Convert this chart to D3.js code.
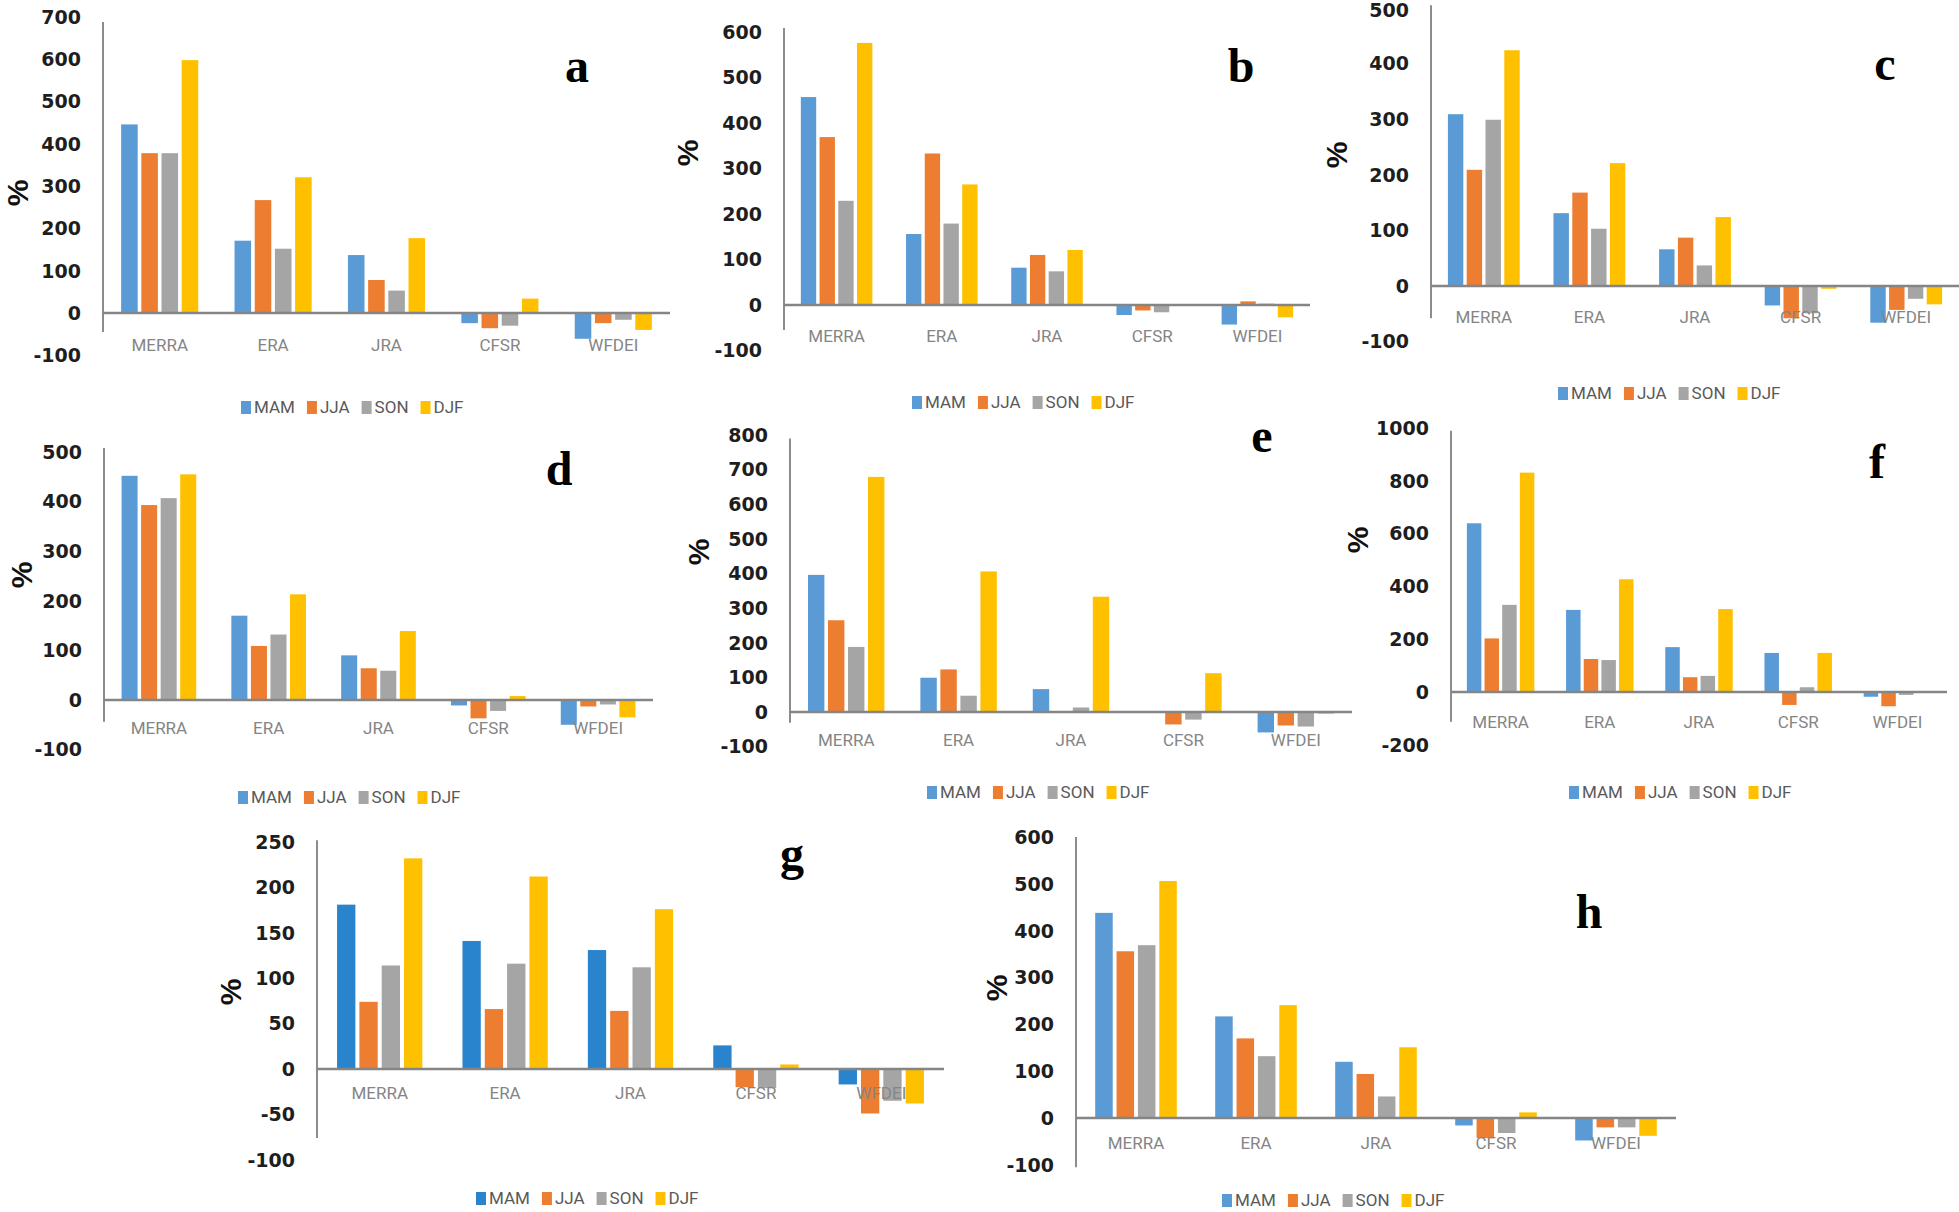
<!DOCTYPE html>
<html>
<head>
<meta charset="utf-8">
<script src="https://cdn.jsdelivr.net/npm/d3@7/dist/d3.min.js"></script>
<style>
  html, body { margin: 0; padding: 0; background: #ffffff; }
  svg { display: block; }
</style>
</head>
<body>
<svg id="chart" width="1959" height="1212"></svg>
<script>
// ---------------- DATA ----------------
const categories = ["MERRA", "ERA", "JRA", "CFSR", "WFDEI"];
const seasons = ["MAM", "JJA", "SON", "DJF"];

// each array: [MAM, JJA, SON, DJF], each row by category order
const valuesA = [[446, 171, 137, -24, -61], [378, 267, 78, -36, -24], [378, 152, 53, -30, -16], [598, 321, 177, 34, -40]];
const valuesB = [[457, 156, 82, -22, -43], [369, 333, 110, -12, 8], [229, 179, 74, -16, 3], [576, 265, 121, 0, -27]];
const valuesC = [[309, 131, 66, -35, -66], [209, 168, 87, -58, -43], [299, 103, 37, -49, -23], [424, 221, 124, -5, -33]];
const valuesD = [[452, 170, 90, -11, -50], [393, 109, 64, -37, -13], [407, 132, 59, -22, -9], [455, 213, 139, 8, -35]];
const valuesE = [[396, 99, 66, 0, -59], [265, 123, 0, -36, -39], [188, 47, 13, -22, -42], [679, 406, 333, 112, -5]];
const valuesF = [[639, 311, 170, 148, -18], [203, 125, 56, -49, -54], [330, 121, 61, 18, -11], [831, 427, 314, 148, 0]];
const valuesG = [[181, 141, 131, 26, -17], [74, 66, 64, -20, -49], [114, 116, 112, -21, -35], [232, 212, 176, 5, -38]];
const valuesH = [[438, 217, 120, -16, -48], [356, 170, 94, -43, -20], [369, 132, 46, -32, -20], [506, 241, 151, 12, -38]];

const ticksA = [-100, 0, 100, 200, 300, 400, 500, 600, 700];
const ticksB = [-100, 0, 100, 200, 300, 400, 500, 600];
const ticksC = [-100, 0, 100, 200, 300, 400, 500];
const ticksD = [-100, 0, 100, 200, 300, 400, 500];
const ticksE = [-100, 0, 100, 200, 300, 400, 500, 600, 700, 800];
const ticksF = [-200, 0, 200, 400, 600, 800, 1000];
const ticksG = [-100, -50, 0, 50, 100, 150, 200, 250];
const ticksH = [-100, 0, 100, 200, 300, 400, 500, 600];

const panelLetters = ["a", "b", "c", "d", "e", "f", "g", "h"];

// ---------------- STYLE / LAYOUT ----------------
const seasonColors = ["#5b9bd5", "#ed7d31", "#a5a5a5", "#ffc000"];
const seasonColorsG = ["#2a84cd", "#ed7d31", "#a5a5a5", "#ffc000"];

const layouts = [
  {values: valuesA, ticks: ticksA, x0: 103, x1: 670, zeroY: 313, topVal: 700, topY: 17, axisTop: 688, axisBot: -45, catY: 345, legX: 241, legY: 407, pctX: 17, pctY: 193, lx: 577, ly: 82},
  {values: valuesB, ticks: ticksB, x0: 784, x1: 1310, zeroY: 305, topVal: 600, topY: 32, axisTop: 609, axisBot: -55, catY: 336, legX: 912, legY: 402, pctX: 687, pctY: 153, lx: 1241, ly: 82},
  {values: valuesC, ticks: ticksC, x0: 1431, x1: 1959, zeroY: 286, topVal: 500, topY: 8, axisTop: 505, axisBot: -58, catY: 317, legX: 1558, legY: 393, pctX: 1336, pctY: 155, lx: 1885, ly: 80},
  {values: valuesD, ticks: ticksD, x0: 104, x1: 653, zeroY: 700, topVal: 500, topY: 452, axisTop: 508, axisBot: -44, catY: 728, legX: 238, legY: 797, pctX: 21, pctY: 575, lx: 559, ly: 485},
  {values: valuesE, ticks: ticksE, x0: 790, x1: 1352, zeroY: 712, topVal: 800, topY: 435, axisTop: 790, axisBot: -31, catY: 740, legX: 927, legY: 792, pctX: 698, pctY: 552, lx: 1262, ly: 452},
  {values: valuesF, ticks: ticksF, x0: 1451, x1: 1947, zeroY: 692, topVal: 1000, topY: 428, axisTop: 990, axisBot: -113, catY: 722, legX: 1569, legY: 792, pctX: 1357, pctY: 540, lx: 1877, ly: 478},
  {values: valuesG, ticks: ticksG, x0: 317, x1: 944, zeroY: 1069, topVal: 250, topY: 842, axisTop: 252, axisBot: -76, catY: 1093, legX: 476, legY: 1198, pctX: 230, pctY: 992, lx: 792, ly: 870, colors: seasonColorsG},
  {values: valuesH, ticks: ticksH, x0: 1076, x1: 1676, zeroY: 1118, topVal: 600, topY: 837, axisTop: 600, axisBot: -105, catY: 1143, legX: 1222, legY: 1200, pctX: 996, pctY: 988, lx: 1589, ly: 928}
];

const svg = d3.select("#chart");

layouts.forEach((L, i) => {
  const colors = L.colors || seasonColors;
  const g = svg.append("g");

  const y = d3.scaleLinear().domain([0, L.topVal]).range([L.zeroY, L.topY]);
  const x = d3.scaleBand().domain(categories).range([L.x0, L.x1]);
  const bw = x.bandwidth();
  const xs = d3.scaleBand().domain(seasons).range([-0.34 * bw, 0.34 * bw]).paddingInner(0.18);

  // bars
  seasons.forEach((s, si) => {
    g.append("g").selectAll("rect")
      .data(L.values[si].map((v, ci) => ({cat: categories[ci], v})))
      .join("rect")
      .attr("x", d => x(d.cat) + bw / 2 + xs(s))
      .attr("width", xs.bandwidth())
      .attr("y", d => Math.min(y(d.v), y(0)))
      .attr("height", d => Math.abs(y(d.v) - y(0)))
      .attr("fill", colors[si]);
  });

  // vertical axis line
  g.append("line")
    .attr("x1", L.x0).attr("x2", L.x0)
    .attr("y1", y(L.axisTop)).attr("y2", y(L.axisBot))
    .attr("stroke", "#8c8c8c").attr("stroke-width", 2);

  // zero line
  g.append("line")
    .attr("x1", L.x0).attr("x2", L.x1)
    .attr("y1", y(0)).attr("y2", y(0))
    .attr("stroke", "#858585").attr("stroke-width", 2.5);

  // tick labels
  g.append("g").selectAll("text")
    .data(L.ticks)
    .join("text")
    .attr("x", L.x0 - 22)
    .attr("y", d => Math.max(y(d), 10))
    .attr("dy", "0.36em")
    .attr("text-anchor", "end")
    .attr("font-family", "'DejaVu Sans', sans-serif")
    .attr("font-weight", "bold")
    .attr("font-size", 19)
    .attr("fill", "#1e1e1e")
    .text(d => d);

  // category labels
  g.append("g").selectAll("text")
    .data(categories)
    .join("text")
    .attr("x", d => x(d) + bw / 2)
    .attr("y", L.catY)
    .attr("dy", "0.36em")
    .attr("text-anchor", "middle")
    .attr("font-family", "Roboto, sans-serif")
    .attr("font-size", 17)
    .attr("fill", "#858585")
    .text(d => d);

  // % label
  g.append("text")
    .attr("transform", `translate(${L.pctX},${L.pctY}) rotate(-90)`)
    .attr("text-anchor", "middle")
    .attr("dy", "0.36em")
    .attr("font-family", "'Liberation Sans', Arial, sans-serif")
    .attr("font-weight", "bold")
    .attr("font-size", 30)
    .attr("fill", "#111")
    .text("%");

  // panel letter
  g.append("text")
    .attr("x", L.lx).attr("y", L.ly)
    .attr("text-anchor", "middle")
    .attr("font-family", "'Liberation Serif', 'Times New Roman', serif")
    .attr("font-weight", "bold")
    .attr("font-size", 48)
    .attr("fill", "#000")
    .text(panelLetters[i]);

  // legend
  const leg = g.append("g");
  let cx = L.legX;
  seasons.forEach((s, si) => {
    leg.append("rect")
      .attr("x", cx).attr("y", L.legY - 6)
      .attr("width", 10).attr("height", 13)
      .attr("fill", colors[si]);
    const t = leg.append("text")
      .attr("x", cx + 13).attr("y", L.legY)
      .attr("dy", "0.36em")
      .attr("font-family", "Roboto, sans-serif")
      .attr("font-size", 17)
      .attr("fill", "#595959")
      .text(s);
    cx += 13 + t.node().getComputedTextLength() + 12;
  });
});
</script>
</body>
</html>
